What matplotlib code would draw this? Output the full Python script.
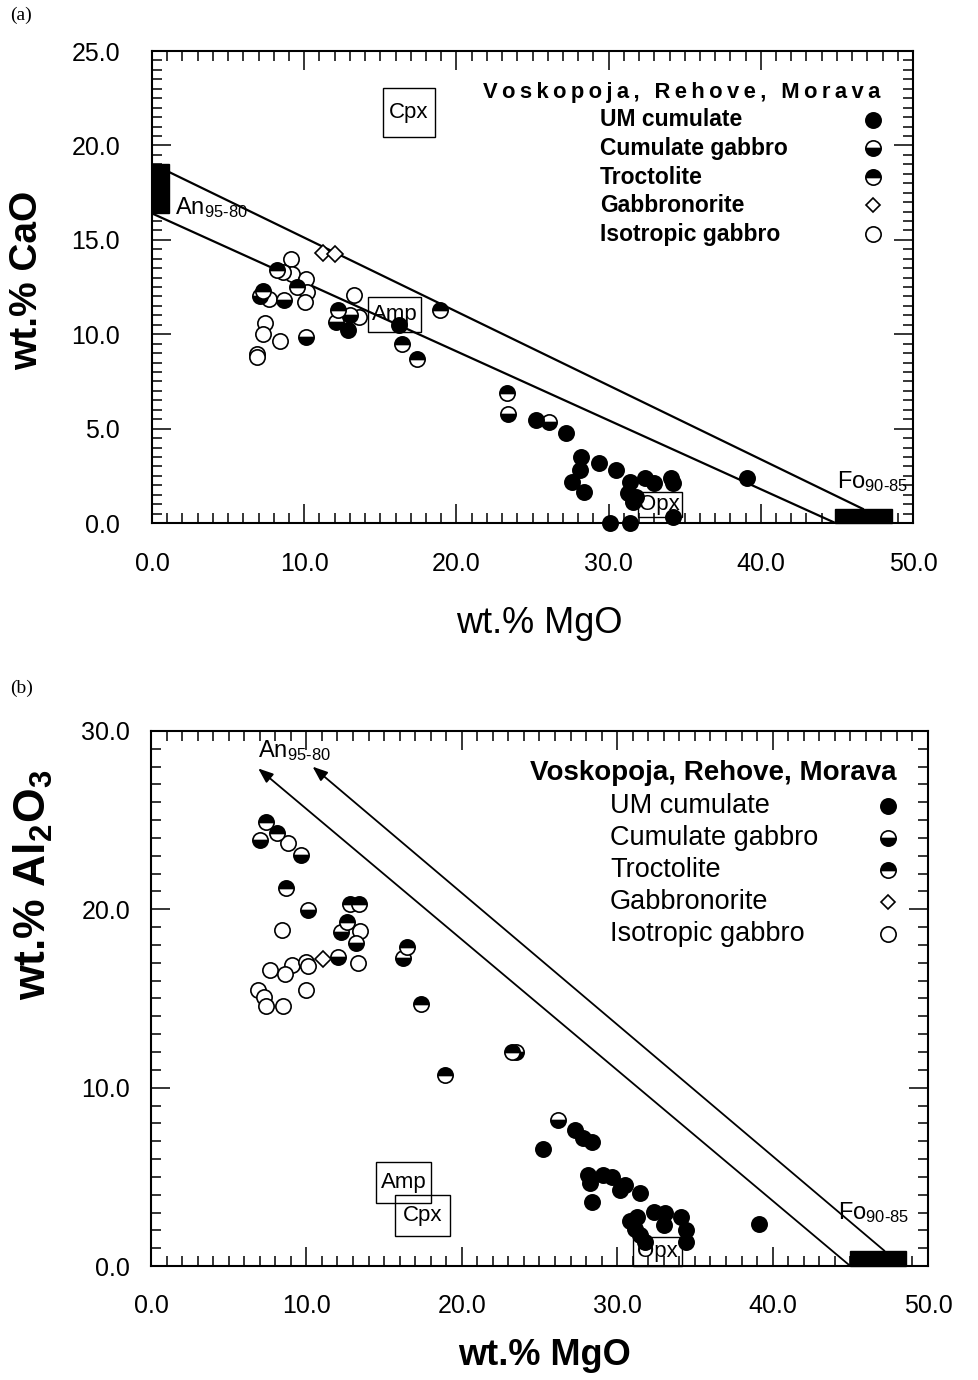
"""
CaO and Al2O3 vs MgO for the Voskopoja, Rehove and Morava cumulates.
Two stacked panels, (a) and (b), written to out.png.
"""

import matplotlib
matplotlib.use("Agg")
import matplotlib.pyplot as plt
from matplotlib.patches import Rectangle
from matplotlib.ticker import MultipleLocator, FormatStrFormatter

plt.rcParams["font.family"] = ["Liberation Sans", "DejaVu Sans"]
plt.rcParams["mathtext.fontset"] = "custom"
plt.rcParams["mathtext.rm"] = "Liberation Sans"
plt.rcParams["mathtext.it"] = "Liberation Sans:italic"
plt.rcParams["mathtext.bf"] = "Liberation Sans:bold"

# ---- panel (a): wt.% CaO vs wt.% MgO ----
um_mgo_a = [25.2, 27.2, 28.2, 29.4, 28.1, 27.6, 28.4, 30.5, 31.4, 31.3, 31.6,
            32.4, 33.0, 34.1, 34.2, 34.2, 30.1, 31.4, 39.1, 31.8, 12.9, 16.2]
um_cao_a = [5.46, 4.78, 3.51, 3.18, 2.81, 2.19, 1.66, 2.81, 2.19, 1.59, 1.13,
            2.38, 2.10, 2.36, 2.10, 0.33, 0.02, 0.02, 2.37, 1.40, 10.2, 10.5]
cg_mgo_a = [7.1, 8.7, 10.1, 12.1, 13.0, 23.4, 26.1]
cg_cao_a = [12.0, 11.8, 9.85, 10.65, 11.0, 5.8, 5.35]
tr_mgo_a = [7.3, 8.2, 9.5, 12.2, 16.4, 17.4, 18.9, 23.3]
tr_cao_a = [12.3, 13.4, 12.5, 11.3, 9.5, 8.7, 11.3, 6.9]
gn_mgo_a = [11.25, 12.0]
gn_cao_a = [14.3, 14.25]
ig_mgo_a = [9.1, 9.2, 10.1, 10.2, 7.7, 10.05, 13.3, 13.6, 7.4, 7.3, 8.4, 6.9,
            6.9, 8.6]
ig_cao_a = [14.0, 13.2, 12.9, 12.25, 11.85, 11.7, 12.1, 10.9, 10.6, 10.0,
            9.65, 8.95, 8.8, 13.3]

# plagioclase / olivine reference ranges and tie lines, panel (a)
an_mgo_a = [0.0, 1.1]
an_cao_a = [16.4, 19.0]
fo_mgo_a = [44.9, 48.6]
fo_cao_a = [0.0, 0.75]
upper_line_a = ([1.1, 46.7], [18.6, 0.75])
lower_line_a = ([0.0, 44.9], [16.4, 0.0])

# ---- panel (b): wt.% Al2O3 vs wt.% MgO ----
um_mgo_b = [25.25, 27.3, 27.8, 28.4, 28.1, 28.25, 29.1, 29.65, 30.2, 30.5,
            31.5, 28.4, 31.25, 31.15, 31.5, 31.8, 32.4, 33.1, 33.0, 34.1,
            34.4, 34.4, 39.1, 30.8]
um_al_b = [6.55, 7.6, 7.15, 6.97, 5.1, 4.64, 5.1, 5.0, 4.26, 4.54, 4.08,
           3.6, 2.77, 2.1, 1.74, 1.36, 3.05, 2.95, 2.3, 2.77, 2.0, 1.36,
           2.36, 2.5]
cg_mgo_b = [7.0, 9.65, 10.1, 12.2, 13.2, 12.05, 16.2, 23.5, 26.2]
cg_al_b = [23.9, 23.05, 19.97, 18.75, 18.1, 17.35, 17.26, 12.0, 8.2]
tr_mgo_b = [7.4, 8.1, 8.7, 12.8, 13.4, 12.6, 16.45, 17.4, 18.9, 23.2]
tr_al_b = [24.9, 24.3, 21.2, 20.3, 20.3, 19.3, 17.9, 14.7, 10.7, 12.0]
gn_mgo_b = [11.1]
gn_al_b = [17.2]
ig_mgo_b = [8.8, 8.4, 13.45, 13.3, 9.1, 10.0, 10.1, 7.65, 8.6, 10.0, 6.9,
            7.3, 7.4, 8.5]
ig_al_b = [23.7, 18.85, 18.8, 17.0, 16.9, 17.05, 16.8, 16.6, 16.4, 15.5,
           15.45, 15.1, 14.6, 14.6]

fo_mgo_b = [45.0, 48.6]
fo_al_b = [0.0, 0.85]
an_arrows_b = [((45.0, 0.0), (6.9, 27.9)), ((47.2, 0.85), (10.4, 28.0))]

GROUPS = ["UM cumulate", "Cumulate gabbro", "Troctolite", "Gabbronorite",
          "Isotropic gabbro"]
MARKERS = {
    "UM cumulate": dict(marker="o", mfc="black", mec="black"),
    "Cumulate gabbro": dict(marker="o", fillstyle="bottom", mfc="black",
                            mfcalt="white", mec="black"),
    "Troctolite": dict(marker="o", fillstyle="top", mfc="black",
                       mfcalt="white", mec="black"),
    "Gabbronorite": dict(marker="D", mfc="white", mec="black", ms=8),
    "Isotropic gabbro": dict(marker="o", mfc="white", mec="black"),
}
DRAW_ORDER = ["Isotropic gabbro", "Gabbronorite", "Cumulate gabbro",
              "Troctolite", "UM cumulate"]

AN_LABEL = r"An$_{95\text{-}80}$"
FO_LABEL = r"Fo$_{90\text{-}85}$"


def plot_groups(ax, data):
    for name in DRAW_ORDER:
        x, y = data[name]
        kw = dict(ms=11, mew=1.2)
        kw.update(MARKERS[name])
        ax.plot(x, y, ls="none", clip_on=False, zorder=4, **kw)


def style_axes(ax, ymax, ymajor, yminor, xpad, ypad):
    ax.set_xlim(0, 50)
    ax.set_ylim(0, ymax)
    ax.xaxis.set_major_locator(MultipleLocator(10))
    ax.xaxis.set_minor_locator(MultipleLocator(1))
    ax.yaxis.set_major_locator(MultipleLocator(ymajor))
    ax.yaxis.set_minor_locator(MultipleLocator(yminor))
    ax.xaxis.set_major_formatter(FormatStrFormatter("%.1f"))
    ax.yaxis.set_major_formatter(FormatStrFormatter("%.1f"))
    ax.tick_params(which="both", direction="in", top=True, right=True,
                   width=1.1, labelsize=18)
    ax.tick_params(which="major", length=14)
    ax.tick_params(which="minor", length=7)
    ax.tick_params(axis="x", pad=xpad)
    ax.tick_params(axis="y", pad=ypad)
    for sp in ax.spines.values():
        sp.set_linewidth(1.5)


def mineral_box(ax, x0, y0, x1, y1, label, size=16):
    ax.add_patch(Rectangle((x0, y0), x1 - x0, y1 - y0, fill=False,
                           lw=1.0, ec="black", zorder=2, clip_on=False))
    ax.text((x0 + x1) / 2, (y0 + y1) / 2, label, ha="center", va="center",
            fontsize=size, zorder=3)


def legend_block(ax, title, title_xy, title_size, title_bold, text_x,
                 rows_y, marker_x, entry_size, entry_bold):
    ax.text(title_xy[0], title_xy[1], title, transform=ax.transAxes,
            ha="right", va="center", fontsize=title_size,
            fontweight="bold" if title_bold else "normal")
    for name, ry in zip(GROUPS, rows_y):
        ax.text(text_x, ry, name, transform=ax.transAxes, ha="left",
                va="center", fontsize=entry_size,
                fontweight="bold" if entry_bold else "normal")
        kw = dict(ms=11, mew=1.2)
        kw.update(MARKERS[name])
        if name == "Gabbronorite":
            kw["ms"] = 7.5
        ax.plot([marker_x], [ry], transform=ax.transAxes, clip_on=False,
                ls="none", **kw)


fig = plt.figure(figsize=(9.79, 13.8), dpi=100)

# ---------------- (a) ----------------
ax1 = fig.add_axes([0.1553, 0.6210, 0.7773, 0.3420])
style_axes(ax1, 25, 5, 0.5, xpad=21, ypad=23)

ax1.add_patch(Rectangle((an_mgo_a[0], an_cao_a[0]), an_mgo_a[1] - an_mgo_a[0],
                        an_cao_a[1] - an_cao_a[0], color="black",
                        clip_on=False, zorder=3))
ax1.add_patch(Rectangle((fo_mgo_a[0], fo_cao_a[0]), fo_mgo_a[1] - fo_mgo_a[0],
                        fo_cao_a[1] - fo_cao_a[0], color="black",
                        clip_on=False, zorder=3))
ax1.plot(*upper_line_a, color="black", lw=1.6, zorder=3)
ax1.plot(*lower_line_a, color="black", lw=1.6, zorder=3)
ax1.text(1.5, 16.7, AN_LABEL, fontsize=17, ha="left", va="center")
ax1.text(45.0, 2.2, FO_LABEL, fontsize=17, ha="left", va="center")

mineral_box(ax1, 15.18, 20.44, 18.59, 23.04, "Cpx")
mineral_box(ax1, 14.2, 10.1, 17.7, 11.99, "Amp")
mineral_box(ax1, 31.9, 0.32, 34.8, 1.64, "Opx")

plot_groups(ax1, {
    "UM cumulate": (um_mgo_a, um_cao_a),
    "Cumulate gabbro": (cg_mgo_a, cg_cao_a),
    "Troctolite": (tr_mgo_a, tr_cao_a),
    "Gabbronorite": (gn_mgo_a, gn_cao_a),
    "Isotropic gabbro": (ig_mgo_a, ig_cao_a),
})

thin = "\u2009"
spaced_title = thin.join("Voskopoja, Rehove, Morava")
legend_block(ax1, spaced_title, (0.9566, 0.913), 15.8, True, 0.5887,
             [0.854, 0.794, 0.733, 0.673, 0.612], 0.947, 16.5, True)

ax1.set_xlabel("wt.% MgO", fontsize=26)
ax1.xaxis.set_label_coords(0.5085, -0.175)
ax1.set_ylabel("wt.% CaO", fontsize=28, fontweight="bold")
ax1.yaxis.set_label_coords(-0.14, 0.515)

# ---------------- (b) ----------------
ax2 = fig.add_axes([0.1542, 0.0826, 0.7937, 0.3877])
style_axes(ax2, 30, 10, 1, xpad=20, ypad=15)

ax2.add_patch(Rectangle((fo_mgo_b[0], fo_al_b[0]), fo_mgo_b[1] - fo_mgo_b[0],
                        fo_al_b[1] - fo_al_b[0], color="black",
                        clip_on=False, zorder=3))
for start, end in an_arrows_b:
    ax2.annotate("", xy=end, xytext=start, zorder=3,
                 arrowprops=dict(arrowstyle="-|>,head_length=0.9,head_width=0.35",
                                 lw=1.3, color="black", shrinkA=0, shrinkB=0))
ax2.text(6.9, 28.9, AN_LABEL, fontsize=17, ha="left", va="center")
ax2.text(44.2, 3.0, FO_LABEL, fontsize=17, ha="left", va="center")

mineral_box(ax2, 14.48, 3.53, 18.02, 5.83, "Amp")
mineral_box(ax2, 15.7, 1.68, 19.24, 3.98, "Cpx")
mineral_box(ax2, 31.0, 0.0, 34.17, 1.63, "Opx")

plot_groups(ax2, {
    "UM cumulate": (um_mgo_b, um_al_b),
    "Cumulate gabbro": (cg_mgo_b, cg_al_b),
    "Troctolite": (tr_mgo_b, tr_al_b),
    "Gabbronorite": (gn_mgo_b, gn_al_b),
    "Isotropic gabbro": (ig_mgo_b, ig_al_b),
})

legend_block(ax2, "Voskopoja, Rehove, Morava", (0.960, 0.9215), 20, True,
             0.5907, [0.860, 0.800, 0.740, 0.680, 0.6206], 0.9485, 19.5, False)

ax2.set_xlabel("wt.% MgO", fontsize=26, fontweight="bold")
ax2.xaxis.set_label_coords(0.507, -0.135)
ax2.set_ylabel(r"wt.% Al$_\mathbf{2}$O$_\mathbf{3}$", fontsize=32,
               fontweight="bold")
ax2.yaxis.set_label_coords(-0.123, 0.712)

fig.text(0.010, 0.989, "(a)", family=["Liberation Serif", "DejaVu Serif"],
         fontsize=14, ha="left", va="center")
fig.text(0.010, 0.5015, "(b)", family=["Liberation Serif", "DejaVu Serif"],
         fontsize=14, ha="left", va="center")

fig.savefig("out.png", dpi=100)
plt.close(fig)
